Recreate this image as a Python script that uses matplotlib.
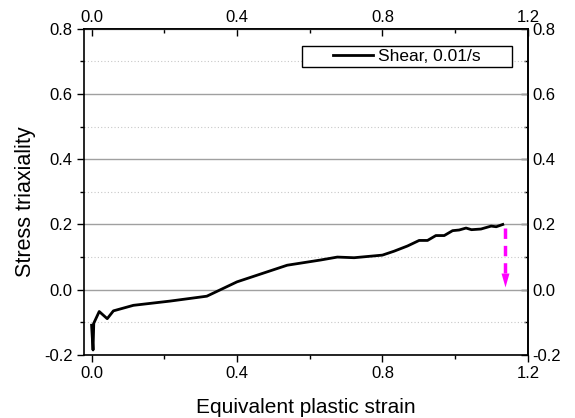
import numpy as np
import matplotlib
matplotlib.use("Agg")
import matplotlib.pyplot as plt
from matplotlib.ticker import MultipleLocator
from matplotlib.patches import Rectangle

plt.rcParams['font.family'] = ['Liberation Sans', 'DejaVu Sans']

# equivalent plastic strain vs stress triaxiality (shear, 0.01/s)
strain = [0.0, 0.004, 0.006, 0.021, 0.043, 0.06, 0.115, 0.216, 0.317, 0.4,
          0.538, 0.63, 0.676, 0.722, 0.8, 0.832, 0.869, 0.901, 0.924, 0.947,
          0.97, 0.993, 1.011, 1.03, 1.045, 1.071, 1.099, 1.113, 1.131]
triax = [-0.109, -0.185, -0.103, -0.067, -0.089, -0.065, -0.048, -0.035, -0.02, 0.024,
         0.075, 0.091, 0.1, 0.098, 0.106, 0.118, 0.134, 0.151, 0.151, 0.166,
         0.166, 0.181, 0.183, 0.189, 0.184, 0.186, 0.195, 0.193, 0.2]
arrow_x = 1.137
arrow_top = 0.19
arrow_head = 0.03   # centre of the head
arrow_shaft_end = 0.05

fig = plt.figure(figsize=(5.75, 4.18), dpi=100)
ax = fig.add_axes([0.146, 0.151, 0.772, 0.78])

ax.plot(strain, triax, color='black', lw=2, label='Shear, 0.01/s')

# magenta dashed arrow pointing down
ax.plot([arrow_x, arrow_x], [arrow_top, arrow_shaft_end], color='magenta',
        lw=2.5, linestyle=(0, (3, 2)), solid_capstyle='butt')
head = [(-4, 7), (4, 7), (0, -7)]
ax.plot([arrow_x], [arrow_head], marker=head, markersize=10, color='magenta',
        markeredgewidth=0, linestyle='none')

ax.set_xlim(-0.021, 1.2)
ax.set_ylim(-0.2, 0.8)
ax.xaxis.set_major_locator(MultipleLocator(0.4))
ax.xaxis.set_minor_locator(MultipleLocator(0.2))
ax.yaxis.set_major_locator(MultipleLocator(0.2))
ax.yaxis.set_minor_locator(MultipleLocator(0.1))
ax.xaxis.set_major_formatter(plt.FormatStrFormatter('%.1f'))
ax.yaxis.set_major_formatter(plt.FormatStrFormatter('%.1f'))

ax.yaxis.grid(True, which='major', color='#a0a0a0', lw=1)
ax.yaxis.grid(True, which='minor', color='#c8c8c8', lw=0.8, linestyle=(0, (1, 2)))
ax.set_axisbelow(True)

ax.tick_params(which='both', direction='out', labelsize=12, width=1, pad=3)
ax.tick_params(which='major', length=5)
ax.tick_params(which='minor', length=3)

# top and right axes mirror the scale
axt = ax.secondary_xaxis('top')
axt.xaxis.set_major_locator(MultipleLocator(0.4))
axt.xaxis.set_minor_locator(MultipleLocator(0.2))
axt.xaxis.set_major_formatter(plt.FormatStrFormatter('%.1f'))
axt.tick_params(which='both', direction='in', labelsize=12, width=1, pad=3)
axt.tick_params(which='major', length=5)
axt.tick_params(which='minor', length=3)

axr = ax.secondary_yaxis('right')
axr.yaxis.set_major_locator(MultipleLocator(0.2))
axr.yaxis.set_minor_locator(MultipleLocator(0.1))
axr.yaxis.set_major_formatter(plt.FormatStrFormatter('%.1f'))
axr.tick_params(which='both', direction='in', labelsize=12, width=1, pad=3)
axr.tick_params(which='major', length=5)
axr.tick_params(which='minor', length=3)

for s in ax.spines.values():
    s.set_linewidth(1.2)
for a in (axt, axr):
    for s in a.spines.values():
        s.set_linewidth(1.2)

ax.set_xlabel('Equivalent plastic strain', fontsize=15, labelpad=12)
ax.set_ylabel('Stress triaxiality', fontsize=15.5)
ax.yaxis.set_label_coords(-0.107, 0.469)

# legend box is wide with much padding at the sides
ax.add_patch(Rectangle((0.492, 0.882), 0.472, 0.066, transform=ax.transAxes,
                       facecolor='white', edgecolor='black', lw=1, zorder=4))
leg = ax.legend(loc='center', bbox_to_anchor=(0.728, 0.915), fontsize=12.5,
                frameon=False, handlelength=2.3, handletextpad=0.3,
                borderpad=0, borderaxespad=0)
leg.set_zorder(5)

fig.savefig('out.png', dpi=100)
